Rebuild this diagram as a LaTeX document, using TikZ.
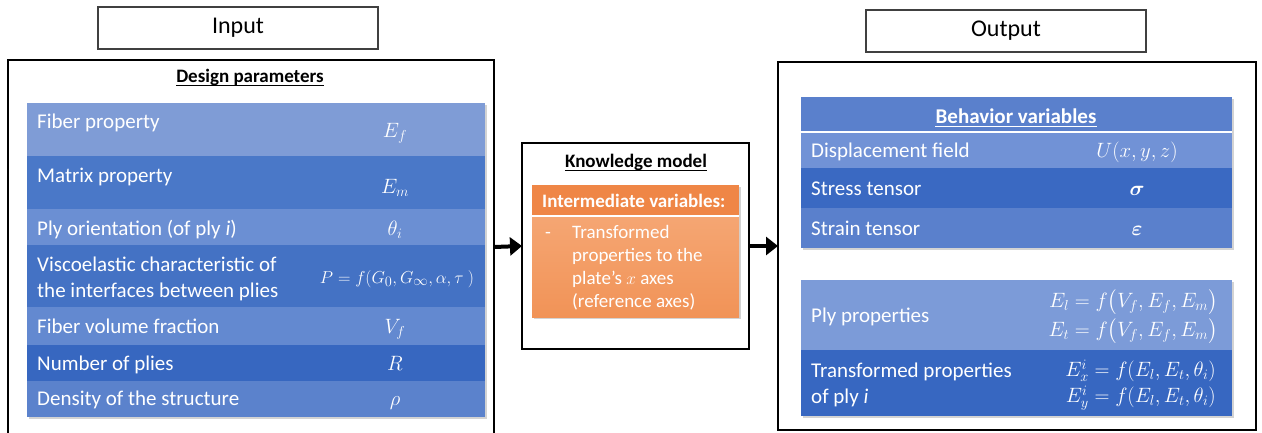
\documentclass[tikz,border=0pt]{standalone}
\usepackage{amsmath,bm}
\usepackage{fontspec}
\setmainfont{Carlito}
\usetikzlibrary{arrows.meta,shadows,calc}
\definecolor{rA}{HTML}{7F9CD6}
\definecolor{rB}{HTML}{4A78C8}
\definecolor{rC}{HTML}{6B8FD3}
\definecolor{rD}{HTML}{4472C4}
\definecolor{rE}{HTML}{6389D0}
\definecolor{rF}{HTML}{3767C0}
\definecolor{rG}{HTML}{5B82CC}
\definecolor{bH}{HTML}{5A80CC}
\definecolor{bD}{HTML}{7192D6}
\definecolor{bS}{HTML}{3A69C2}
\definecolor{pP}{HTML}{7C9BD8}
\definecolor{pT}{HTML}{3767C1}
\definecolor{oH}{HTML}{EF8646}
\definecolor{oT}{HTML}{F5A673}
\definecolor{oB}{HTML}{F19357}
\tikzset{
 frame/.style={draw=black, line width=1.2pt, inner sep=0, outer sep=0, anchor=north west},
 titlebox/.style={draw=black!75, line width=1.4pt, inner sep=0, font=\fontsize{24}{28}\selectfont},
 row/.style={anchor=north west, inner sep=0, outer sep=0},
 txt/.style={text=white, inner sep=0, anchor=base west, font=\fontsize{21}{26}\selectfont},
 mth/.style={text=white, inner sep=0, anchor=base, font=\fontsize{21}{26}\selectfont},
 hdr/.style={inner sep=0, anchor=base, font=\bfseries\fontsize{19}{23}\selectfont},
 uline/.style={line width=1pt},
 sepline/.style={white, line width=1.3pt},
 bigarrow/.style={line width=4pt, -{Triangle[length=12pt,width=18pt]}},
 tshadow/.style={drop shadow={shadow xshift=1.5pt, shadow yshift=-1.5pt, opacity=0.35}},
}
\begin{document}
\begin{tikzpicture}[x=1pt,y=-1pt]
\useasboundingbox (0,0) rectangle (1262,432);

% ---------- Input side ----------
\node[titlebox, minimum width=280pt, minimum height=42pt] (inp) at (238,28) {Input};
\node[frame, minimum width=486pt, minimum height=374pt] (lbox) at (8,60) {};
\node[hdr] (dp) at (250,82) {Design parameters};
\draw[uline] ([yshift=-3pt]dp.base west) -- ([yshift=-3pt]dp.base east);

\node[row, tshadow, fill=rG, minimum width=458pt, minimum height=314pt] (ltab) at (27,103) {};
\node[row, fill=rA, minimum width=458pt, minimum height=53pt] (r1) at (27,103) {};
\node[row, fill=rB, minimum width=458pt, minimum height=53pt] (r2) at (27,156) {};
\node[row, fill=rC, minimum width=458pt, minimum height=36pt] (r3) at (27,209) {};
\node[row, fill=rD, minimum width=458pt, minimum height=62pt] (r4) at (27,245) {};
\node[row, fill=rE, minimum width=458pt, minimum height=38pt] (r5) at (27,307) {};
\node[row, fill=rF, minimum width=458pt, minimum height=36pt] (r6) at (27,345) {};
\node[row, fill=rG, minimum width=458pt, minimum height=36pt] (r7) at (27,381) {};

\node[txt] (t1) at (37,128) {Fiber property};
\node[mth] (m1) at (395,137) {$E_f$};
\node[txt] (t2) at (37,182) {Matrix property};
\node[mth] (m2) at (395,193) {$E_m$};
\node[txt] (t3) at (37,235) {Ply orientation (of ply \textit{i})};
\node[mth] (m3) at (395,235) {$\theta_i$};
\node[txt, anchor=west, align=left] (t4) at (37,279) {Viscoelastic characteristic of\\the interfaces between plies};
\node[mth, font=\fontsize{19}{24}\selectfont] (m4) at (397,283) {$P=f(G_0,G_\infty,\alpha,\tau\ )$};
\node[txt] (t5) at (37,333) {Fiber volume fraction};
\node[mth] (m5) at (395,333) {$V_f$};
\node[txt] (t6) at (37,370) {Number of plies};
\node[mth] (m6) at (395,370) {$R$};
\node[txt] (t7) at (37,405) {Density of the structure};
\node[mth] (m7) at (395,405) {$\rho$};

% ---------- Knowledge model ----------
\node[frame, minimum width=227pt, minimum height=206pt] (kbox) at (522,143) {};
\node[hdr] (km) at (636,167) {Knowledge model};
\draw[uline] ([yshift=-3pt]km.base west) -- ([yshift=-3pt]km.base east);

\node[row, tshadow, fill=oB, minimum width=207pt, minimum height=132pt] (otab) at (532,185) {};
\node[row, fill=oH, minimum width=207pt, minimum height=31pt] (oh) at (532,185) {};
\node[row, top color=oT, bottom color=oB, minimum width=207pt, minimum height=101pt] (ob) at (532,216) {};
\draw[sepline] (oh.south west) -- (oh.south east);
\node[hdr, text=white, anchor=base west] (iv) at (542,207) {Intermediate variables:};
\node[txt, font=\fontsize{19}{23}\selectfont] (dash) at (545,238) {-};
\node[txt, font=\fontsize{19}{23}\selectfont] (o1) at (572,238) {Transformed};
\node[txt, font=\fontsize{19}{23}\selectfont] (o2) at (572,261) {properties to the};
\node[txt, font=\fontsize{19}{23}\selectfont] (o3) at (572,284) {plate’s $x$ axes};
\node[txt, font=\fontsize{19}{23}\selectfont] (o4) at (572,307) {(reference axes)};

% ---------- Output side ----------
\node[titlebox, minimum width=280pt, minimum height=42pt] (outp) at (1006,31) {Output};
\node[frame, minimum width=478pt, minimum height=368pt] (rbox) at (778,62) {};

\node[row, tshadow, fill=bH, minimum width=431pt, minimum height=151pt] (btab) at (801,97) {};
\node[row, fill=bH, minimum width=431pt, minimum height=35pt] (bh) at (801,97) {};
\node[row, fill=bD, minimum width=431pt, minimum height=36pt] (bd) at (801,132) {};
\node[row, fill=bS, minimum width=431pt, minimum height=40pt] (bs) at (801,168) {};
\node[row, fill=bH, minimum width=431pt, minimum height=40pt] (be) at (801,208) {};
\draw[sepline] (bh.south west) -- (bh.south east);
\node[hdr, text=white, font=\bfseries\fontsize{21}{26}\selectfont] (bv) at (1016,123) {Behavior variables};
\draw[uline, white] ([yshift=-3pt]bv.base west) -- ([yshift=-3pt]bv.base east);
\node[txt] (bt1) at (811,157) {Displacement field};
\node[mth] (bm1) at (1137,157) {$U(x,y,z)$};
\node[txt] (bt2) at (811,195) {Stress tensor};
\node[mth] (bm2) at (1137,195) {$\bm{\sigma}$};
\node[txt] (bt3) at (811,235) {Strain tensor};
\node[mth] (bm3) at (1137,235) {$\bm{\varepsilon}$};

\node[row, tshadow, fill=pT, minimum width=431pt, minimum height=136pt] (ptab) at (801,280) {};
\node[row, fill=pP, minimum width=431pt, minimum height=70pt] (pp) at (801,280) {};
\node[row, fill=pT, minimum width=431pt, minimum height=66pt] (pt) at (801,350) {};
\node[txt] (pt1) at (811,322) {Ply properties};
\node[mth, anchor=east, align=right, font=\fontsize{21}{29}\selectfont] (pm1) at (1218,317) {$E_l=f\bigl(V_f,E_f,E_m\bigr)$\\$E_t=f\bigl(V_f,E_f,E_m\bigr)$};
\node[txt, anchor=west, align=left] (pt2) at (811,385) {Transformed properties\\of ply \textit{i}};
\node[mth, anchor=east, align=right] (pm2) at (1216,385) {$E_x^i=f(E_l,E_t,\theta_i)$\\$E_y^i=f(E_l,E_t,\theta_i)$};

% ---------- Arrows ----------
\draw[bigarrow] (lbox.east) -- (kbox.west);
\draw[bigarrow] (kbox.east) -- (rbox.west);
\end{tikzpicture}
\end{document}
